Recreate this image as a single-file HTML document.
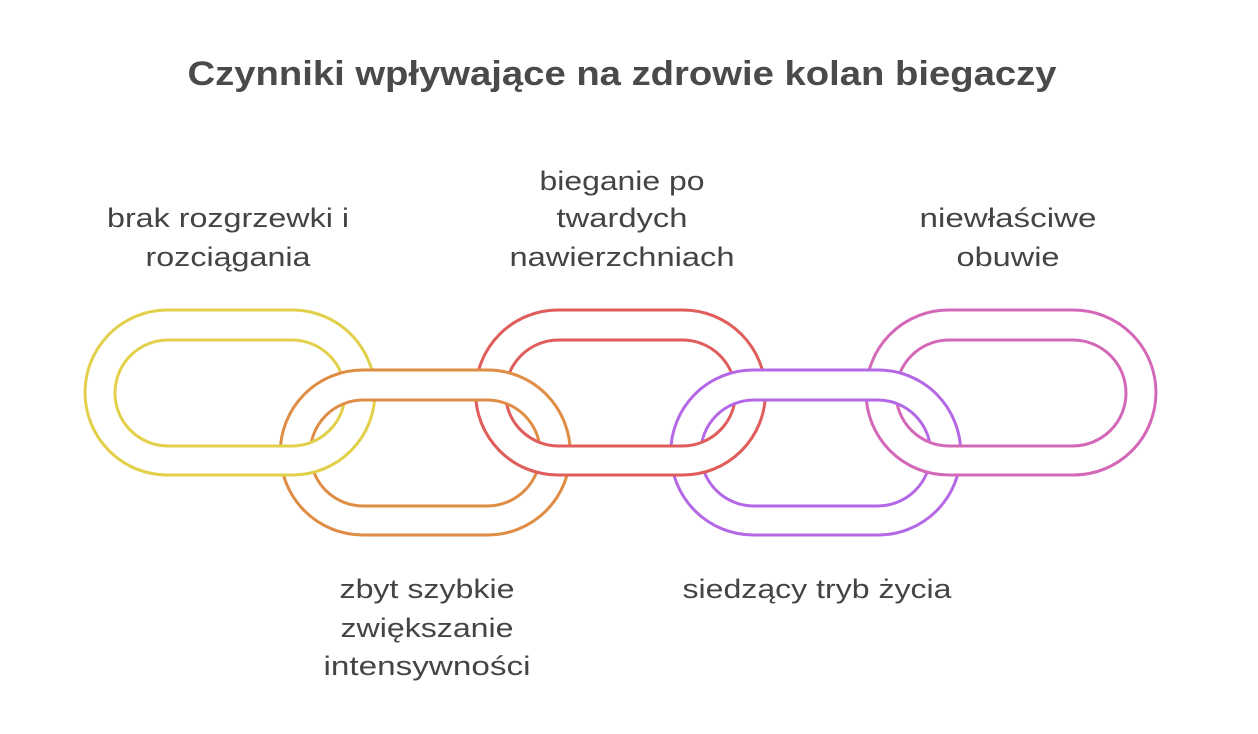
<!DOCTYPE html>
<html><head><meta charset="utf-8"><style>
html,body{margin:0;padding:0;background:#fff;}
svg{display:block;}
text{font-family:"Liberation Sans",Arial,sans-serif;fill:#444;}
</style></head><body>
<svg width="1258" height="734" viewBox="0 0 1258 734" xmlns="http://www.w3.org/2000/svg">
<defs>
<path id="L" fill="#fff" fill-rule="evenodd" stroke="currentColor" stroke-width="3" d="M167.5,310 H292.5 A82.5 82.5 0 0 1 292.5,475 H167.5 A82.5 82.5 0 0 1 167.5,310Z M168,340 H292 A53 53 0 0 1 292,446 H168 A53 53 0 0 1 168,340Z"/>
<clipPath id="bot"><rect x="0" y="422" width="1258" height="200"/></clipPath>
</defs>
<text x="622" y="85" text-anchor="middle" font-size="34" font-weight="bold" style="fill:#4a4a4a" textLength="869" lengthAdjust="spacingAndGlyphs">Czynniki wpływające na zdrowie kolan biegaczy</text>

<g font-size="27" text-anchor="middle">
<text x="228" y="227" textLength="242" lengthAdjust="spacingAndGlyphs">brak rozgrzewki i</text>
<text x="228" y="266" textLength="165" lengthAdjust="spacingAndGlyphs">rozciągania</text>
<text x="622" y="190" textLength="165" lengthAdjust="spacingAndGlyphs">bieganie po</text>
<text x="622" y="227" textLength="131" lengthAdjust="spacingAndGlyphs">twardych</text>
<text x="622" y="266" textLength="225" lengthAdjust="spacingAndGlyphs">nawierzchniach</text>
<text x="1008" y="227" textLength="177" lengthAdjust="spacingAndGlyphs">niewłaściwe</text>
<text x="1008" y="266" textLength="103" lengthAdjust="spacingAndGlyphs">obuwie</text>
<text x="427" y="598" textLength="175" lengthAdjust="spacingAndGlyphs">zbyt szybkie</text>
<text x="427" y="637" textLength="173" lengthAdjust="spacingAndGlyphs">zwiększanie</text>
<text x="427" y="675" textLength="207" lengthAdjust="spacingAndGlyphs">intensywności</text>
<text x="817" y="598" textLength="269" lengthAdjust="spacingAndGlyphs">siedzący tryb życia</text>
</g>

<use href="#L" style="color:#e3d04a"/>
<use href="#L" transform="translate(390.5,0)" style="color:#df5d5a"/>
<use href="#L" transform="translate(781,0)" style="color:#d468b8"/>
<use href="#L" transform="translate(195.25,60)" style="color:#df8c45"/>
<use href="#L" transform="translate(585.75,60)" style="color:#b468e6"/>
<g clip-path="url(#bot)">
<use href="#L" style="color:#e3d04a"/>
<use href="#L" transform="translate(390.5,0)" style="color:#df5d5a"/>
<use href="#L" transform="translate(781,0)" style="color:#d468b8"/>
</g>
</svg>
</body></html>
